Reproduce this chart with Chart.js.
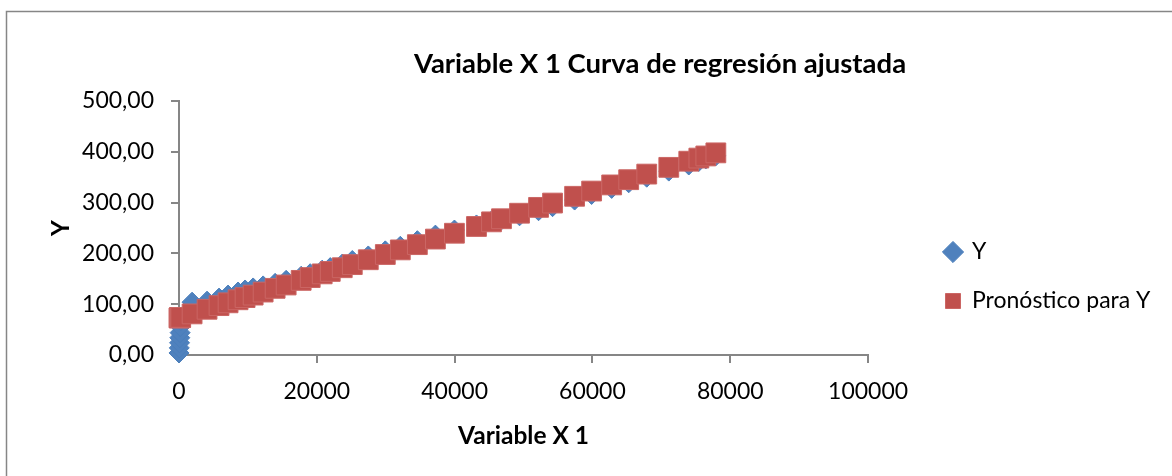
<!DOCTYPE html>
<html lang="es">
<head>
<meta charset="utf-8">
<title>Variable X 1 Curva de regresión ajustada</title>
<script src="https://cdn.jsdelivr.net/npm/chart.js@4.4.1/dist/chart.umd.min.js"></script>
<style>
  html, body { margin: 0; padding: 0; background: #fff; }
  canvas { display: block; }
</style>
</head>
<body>
<canvas id="graficoRegresion" width="1172" height="476"></canvas>
<script>
// Datos: Variable X 1, Y observada y pronóstico de la regresión
const variableX1 = [0, 40, 80, 120, 160, 200, 250,
    1900, 4070, 5810, 7120, 8570, 9590, 10760, 12210, 13950, 15550,
    17730, 19040, 20780, 21950, 23690, 25150, 27470, 29940, 32120, 34590,
    37210, 39970, 43170, 45350, 46800, 49420, 52180, 54210, 57410, 59880,
    62790, 65260, 67880, 71080, 73980, 75440, 76450, 77910];
const valoresY = [4, 14, 24, 34, 44, 56, 68,
    104, 106, 112, 118, 124, 128, 132, 136, 141, 147,
    155, 160, 167, 172, 179, 186, 195, 205, 214, 225,
    236, 246, 256, 264, 266, 274, 284, 292, 305, 316,
    328, 339, 350, 362, 374, 381, 386, 392];
const pronosticoY = [73.0, 73.2, 73.3, 73.5, 73.7, 73.8, 74.0,
    80.9, 90.0, 97.2, 102.7, 108.7, 113.0, 117.9, 123.9, 131.2, 137.8,
    146.9, 152.4, 159.7, 164.5, 171.8, 177.9, 187.5, 197.8, 206.9, 217.2,
    228.2, 239.7, 253.0, 262.1, 268.2, 279.1, 290.6, 299.1, 312.4, 322.7,
    334.8, 345.1, 356.1, 369.4, 381.5, 387.6, 391.8, 397.9];
const ticksX = [0, 20000, 40000, 60000, 80000, 100000];
const ticksY = [0, 100, 200, 300, 400, 500];

const TITULO = 'Variable X 1 Curva de regresión ajustada';
const FUENTE = 'Lato, "Open Sans", sans-serif';
const GRIS = '#868686';

document.addEventListener('DOMContentLoaded', function () {
    // título y marco del gráfico
    const tituloGrafico = {
        id: 'tituloGrafico',
        afterDraw(chart) {
            const ctx = chart.ctx;
            ctx.save();
            ctx.font = 'bold 27.5px ' + FUENTE;
            ctx.fillStyle = '#000';
            ctx.textAlign = 'center';
            ctx.textBaseline = 'middle';
            ctx.fillText(TITULO, 660, 64);
            ctx.strokeStyle = GRIS;
            ctx.lineWidth = 1.5;
            ctx.beginPath();
            ctx.moveTo(6.5, 480);
            ctx.lineTo(6.5, 11.5);
            ctx.lineTo(1180, 11.5);
            ctx.stroke();
            ctx.restore();
        }
    };

    // desplaza la leyenda a su sitio sin mover el área del gráfico
    const moverLeyenda = {
        id: 'moverLeyenda',
        afterLayout(chart) {
            const l = chart.legend;
            const dx = 945.5 - (chart.chartArea.right + 26);
            l.left += dx; l.right += dx;
            l.top -= 12; l.bottom -= 12;
        }
    };

    const ctx = document.getElementById('graficoRegresion').getContext('2d');
    new Chart(ctx, {
        type: 'scatter',
        data: {
            datasets: [{
                label: 'Y',
                data: variableX1.map((x, i) => ({ x: x, y: valoresY[i] })),
                pointStyle: 'rectRot',
                pointRadius: 10,
                backgroundColor: '#4F81BD',
                borderColor: '#4A7EBB',
                borderWidth: 1,
                clip: false,
                order: 1
            }, {
                label: 'Pronóstico para Y',
                data: variableX1.map((x, i) => ({ x: x, y: pronosticoY[i] })),
                pointStyle: 'rect',
                pointRadius: 14,
                backgroundColor: '#C0504D',
                borderColor: '#CB6664',
                borderWidth: 1,
                clip: false,
                order: 0
            }]
        },
        options: {
            responsive: false,
            animation: false,
            layout: { padding: { top: 101, left: 0, right: 63, bottom: 0 } },
            plugins: {
                tooltip: { enabled: false },
                legend: {
                    position: 'right',
                    labels: {
                        usePointStyle: true,
                        boxWidth: 15,
                        boxHeight: 15,
                        padding: 26,
                        color: '#000',
                        font: { family: FUENTE, size: 23 },
                        sort: (a, b) => a.datasetIndex - b.datasetIndex
                    }
                }
            },
            scales: {
                x: {
                    type: 'linear',
                    min: 0,
                    max: 100000,
                    afterBuildTicks: scale => { scale.ticks = ticksX.map(v => ({ value: v })); },
                    afterFit: scale => { scale.height = 121; },
                    ticks: {
                        color: '#000',
                        padding: 15,
                        font: { family: FUENTE, size: 23 },
                        callback: v => String(v)
                    },
                    grid: { drawOnChartArea: false, drawTicks: true, tickLength: 8, color: GRIS, lineWidth: 2 },
                    border: { color: GRIS, width: 2 },
                    title: {
                        display: true,
                        text: 'Variable X 1',
                        color: '#000',
                        font: { family: FUENTE, size: 24.5, weight: 'bold' },
                        padding: { top: 0, bottom: 25 }
                    }
                },
                y: {
                    min: 0,
                    max: 500,
                    afterBuildTicks: scale => { scale.ticks = ticksY.map(v => ({ value: v })); },
                    afterFit: scale => { scale.width = 179; },
                    ticks: {
                        color: '#000',
                        padding: 17,
                        font: { family: FUENTE, size: 23 },
                        callback: v => v.toFixed(2).replace('.', ',')
                    },
                    grid: { drawOnChartArea: false, drawTicks: true, tickLength: 8, color: GRIS, lineWidth: 2 },
                    border: { color: GRIS, width: 2 },
                    title: {
                        display: true,
                        text: 'Y',
                        color: '#000',
                        font: { family: FUENTE, size: 24.5, weight: 'bold' },
                        padding: { top: 46, bottom: 0 }
                    }
                }
            }
        },
        plugins: [tituloGrafico, moverLeyenda]
    });
});
</script>
</body>
</html>
